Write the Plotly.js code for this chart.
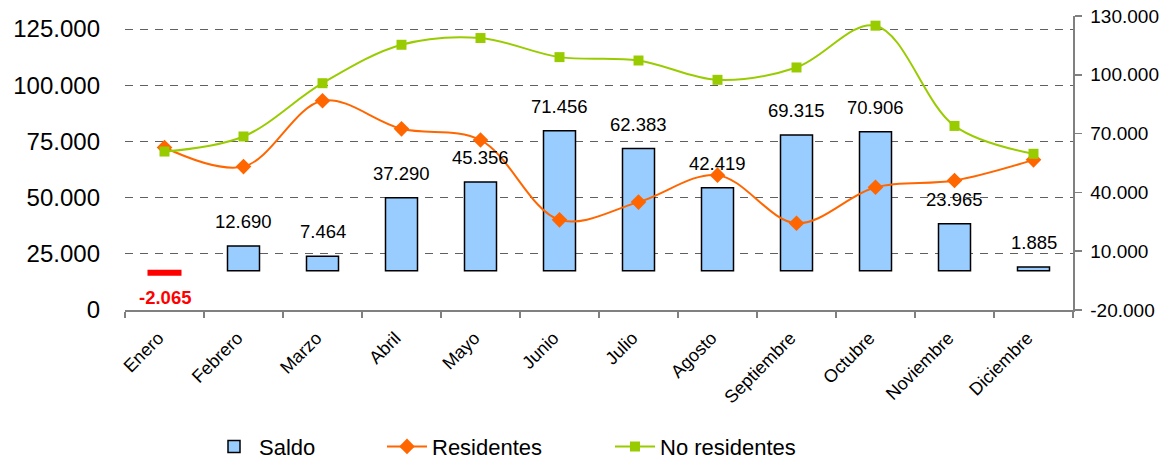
<!DOCTYPE html>
<html>
<head>
<meta charset="utf-8">
<script src="https://cdn.plot.ly/plotly-3.0.1.min.js"></script>
<style>
  html, body { margin: 0; padding: 0; background: #fff; }
  #chart { width: 1165px; height: 459px; }
</style>
</head>
<body>
<div id="chart"></div>
<script>
// ---- Data ----
const months = ["Enero", "Febrero", "Marzo", "Abril", "Mayo", "Junio", "Julio",
                "Agosto", "Septiembre", "Octubre", "Noviembre", "Diciembre"];
const saldo = [-2065, 12690, 7464, 37290, 45356, 71456, 62383, 42419, 69315, 70906, 23965, 1885];
const residentes = [72300, 63800, 93100, 80600, 75600, 40100, 48000, 60000, 38600, 54600, 57600, 66800];
const noResidentes = [70500, 77200, 100900, 118000, 121000, 112500, 111000, 102400, 107900, 126500, 81900, 69500];

const leftTickVals = [0, 25000, 50000, 75000, 100000, 125000];
const leftTickText = ["0", "25.000", "50.000", "75.000", "100.000", "125.000"];
const rightTickVals = [-20000, 10000, 40000, 70000, 100000, 130000];
const rightTickText = ["-20.000", "10.000", "40.000", "70.000", "100.000", "130.000"];

// ---- helpers ----
function fmt(v) {
  const s = Math.abs(Math.round(v)).toString().replace(/\B(?=(\d{3})+(?!\d))/g, ".");
  return (v < 0 ? "-" : "") + s;
}

const FONT = "Liberation Sans, Arial, Helvetica, sans-serif";
const BLUE = "#99CCFF";
const RED = "#FF0000";
const ORANGE = "#FF6600";
const GREEN = "#99CC00";

// positive and negative parts of the Saldo series (negative one drawn in red)
const saldoPos = saldo.map(v => v >= 0 ? v : null);
const saldoNeg = saldo.map(v => v < 0 ? v : null);

const traces = [
  {
    type: "bar", name: "Saldo", x: months, y: saldoPos,
    xaxis: "x", yaxis: "y", width: 0.405,
    marker: { color: BLUE, line: { color: "#000000", width: 1.5 } },
    legend: "legend", hoverinfo: "skip"
  },
  {
    type: "bar", name: "Saldo", x: months, y: saldoNeg,
    xaxis: "x", yaxis: "y", width: 0.405, showlegend: false,
    marker: { color: RED, line: { color: RED, width: 2 } },
    hoverinfo: "skip"
  },
  {
    type: "scatter", mode: "lines+markers", name: "Residentes", x: months, y: residentes,
    xaxis: "x", yaxis: "y2",
    line: { color: ORANGE, width: 2, shape: "spline", smoothing: 1 },
    marker: { symbol: "diamond", size: 12, color: ORANGE },
    legend: "legend2", hoverinfo: "skip"
  },
  {
    type: "scatter", mode: "lines+markers", name: "No residentes", x: months, y: noResidentes,
    xaxis: "x", yaxis: "y2",
    line: { color: GREEN, width: 2, shape: "spline", smoothing: 1 },
    marker: { symbol: "square", size: 10, color: GREEN },
    legend: "legend3", hoverinfo: "skip"
  }
];

const annotations = months.map((m, i) => {
  const neg = saldo[i] < 0;
  return {
    x: m, y: saldo[i], xref: "x", yref: "y",
    text: neg ? "<b>" + fmt(saldo[i]) + "</b>" : fmt(saldo[i]),
    showarrow: false,
    yanchor: neg ? "top" : "bottom",
    yshift: neg ? -10 : 12,
    font: { family: FONT, size: 18.5, color: neg ? RED : "#000000" }
  };
});

const legendCommon = {
  orientation: "h", xref: "container", yref: "container",
  yanchor: "middle", xanchor: "left", y: 0.027,
  bgcolor: "rgba(0,0,0,0)", borderwidth: 0, itemwidth: 40,
  font: { family: FONT, size: 22, color: "#000000" }
};

const layout = {
  width: 1165, height: 459,
  margin: { l: 125, r: 92, t: 16, b: 149, pad: 0 },
  paper_bgcolor: "#ffffff", plot_bgcolor: "#ffffff",
  font: { family: FONT, color: "#000000" },
  separators: ",.",
  showlegend: true,
  barmode: "overlay",
  xaxis: {
    type: "category", range: [-0.5, 11.5], tickson: "boundaries",
    ticks: "outside", ticklen: 6, tickcolor: "#808080", tickwidth: 1.5,
    showline: true, linecolor: "#808080", linewidth: 1.5,
    showgrid: false, zeroline: false,
    tickangle: -45, ticklabelstandoff: 9, ticklabelshift: -6,
    tickfont: { family: FONT, size: 18, color: "#000000" }
  },
  yaxis: {
    side: "right", range: [-20000, 130000],
    tickvals: rightTickVals, ticktext: rightTickText,
    ticks: "outside", ticklen: 7, tickcolor: "#808080", tickwidth: 1.5,
    showline: true, linecolor: "#808080", linewidth: 1.5,
    showgrid: false, zeroline: false, ticklabelstandoff: 5,
    tickfont: { family: FONT, size: 19, color: "#000000" }
  },
  yaxis2: {
    overlaying: "y", side: "left", range: [0, 130800],
    tickvals: leftTickVals, ticktext: leftTickText,
    ticks: "", showline: false, zeroline: false,
    showgrid: true, gridcolor: "#606060", gridwidth: 1, griddash: "8px,7px",
    ticklabelstandoff: 24,
    tickfont: { family: FONT, size: 24, color: "#000000" }
  },
  annotations: annotations,
  legend: Object.assign({}, legendCommon, { x: 209 / 1165 }),
  legend2: Object.assign({}, legendCommon, { x: 382 / 1165 }),
  legend3: Object.assign({}, legendCommon, { x: 610 / 1165 })
};

Plotly.newPlot("chart", traces, layout, { displayModeBar: false, staticPlot: true });
</script>
</body>
</html>
